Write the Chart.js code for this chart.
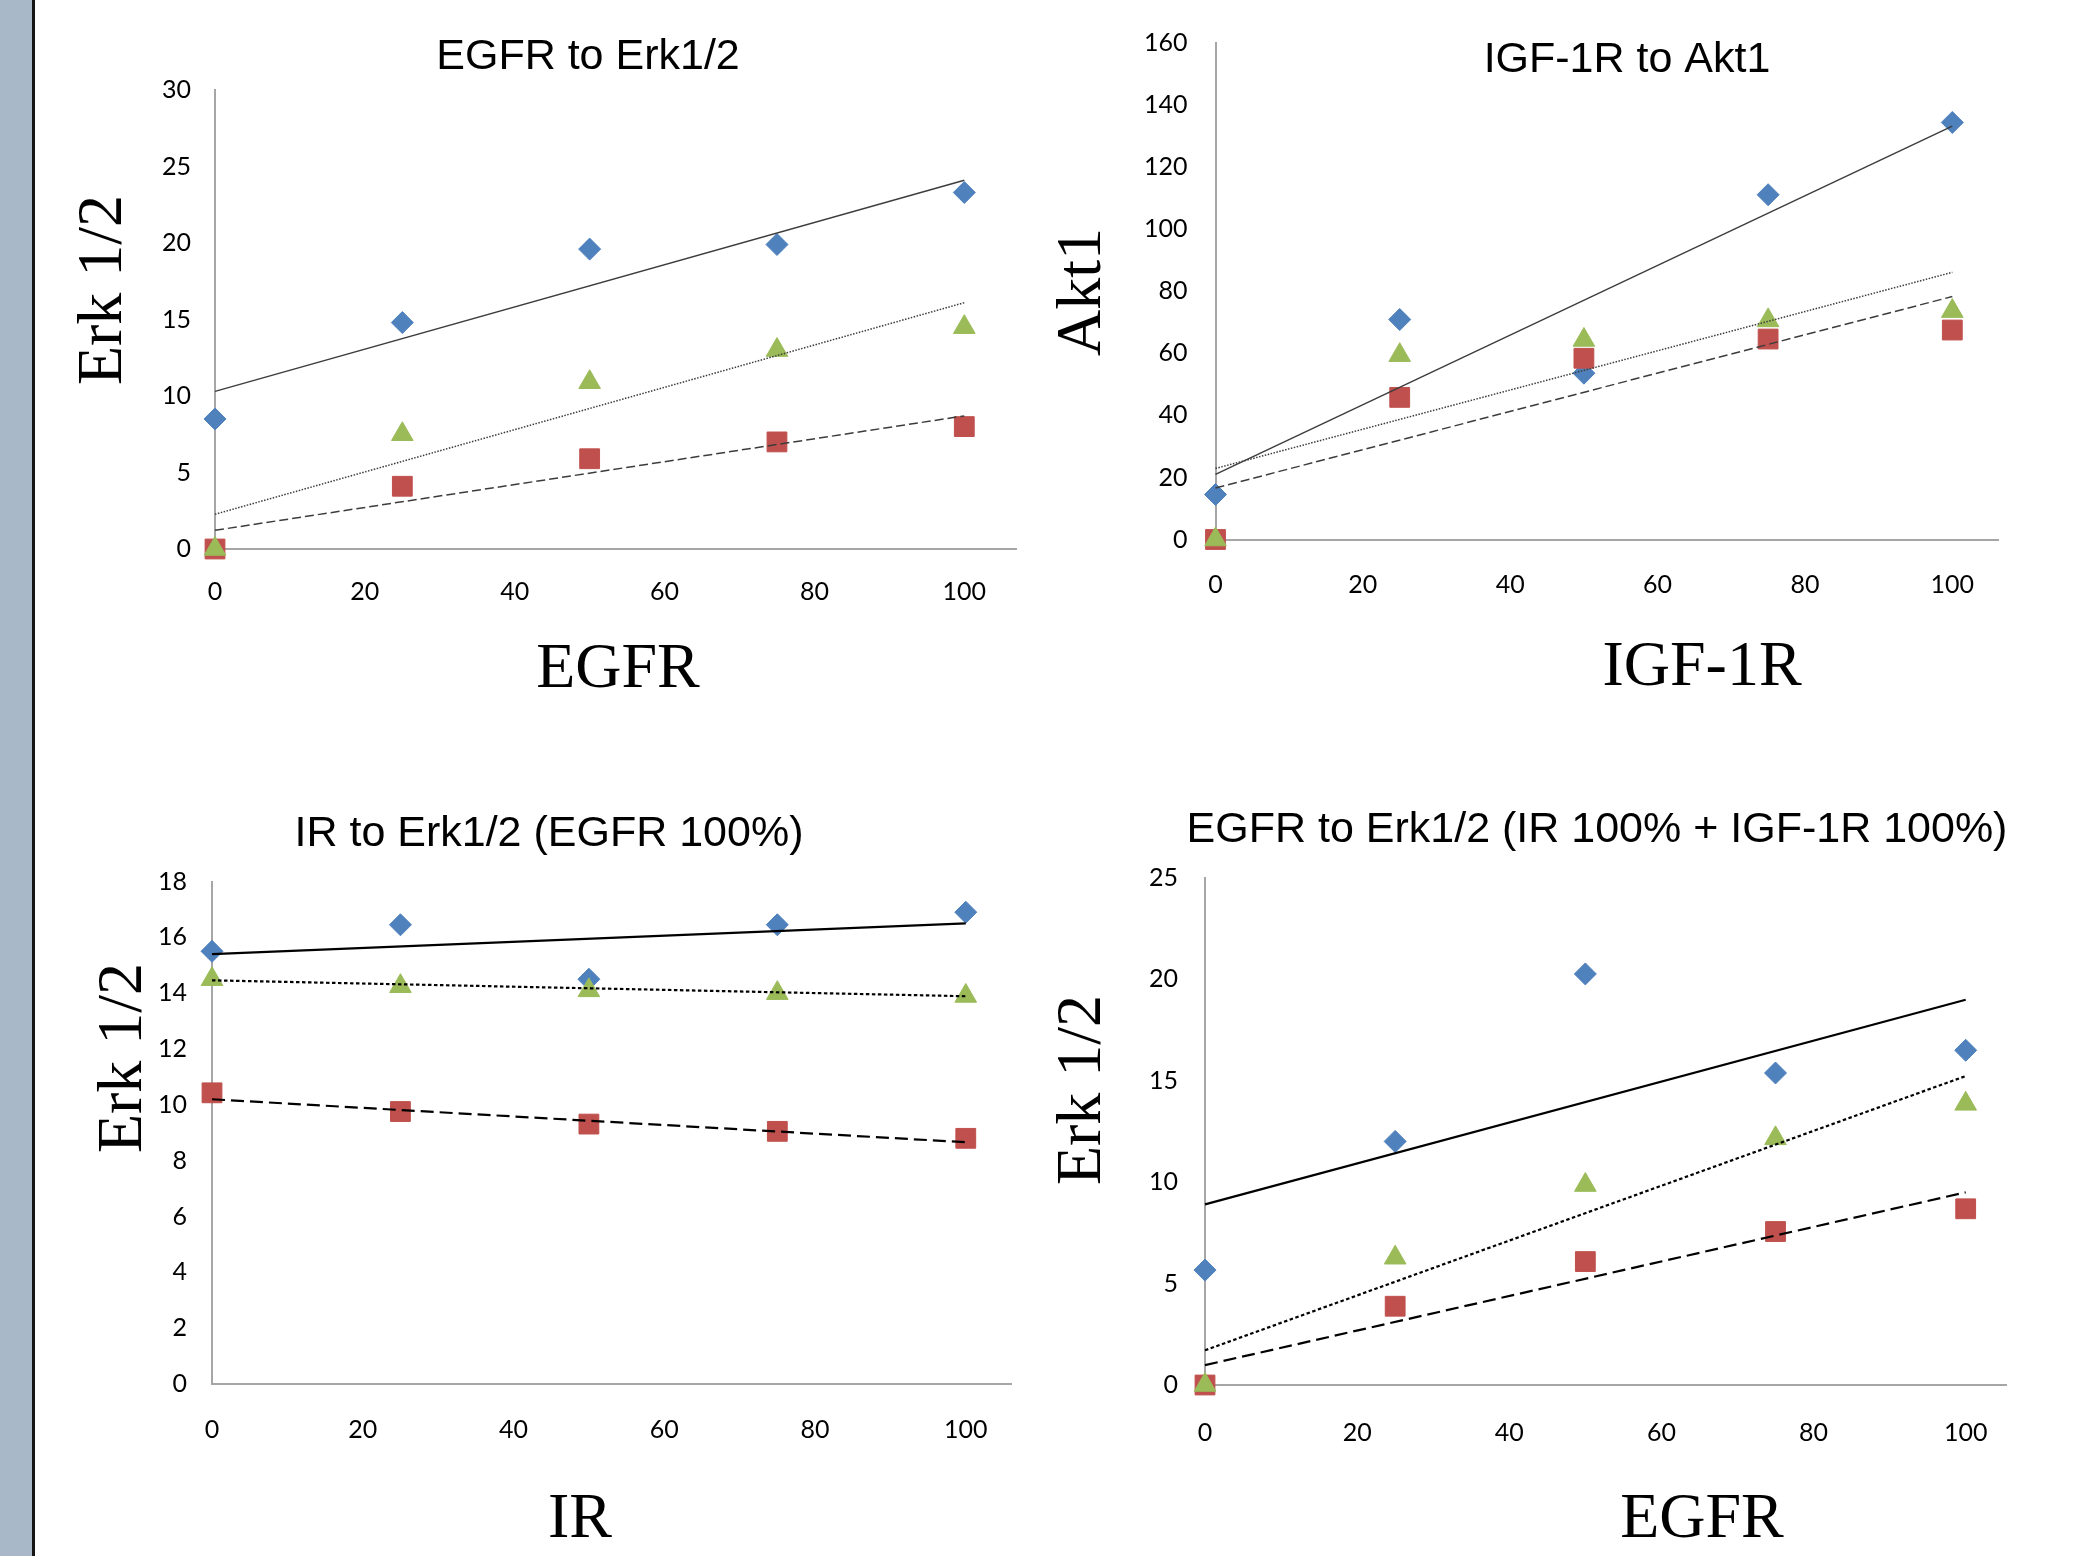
<!DOCTYPE html>
<html>
<head>
<meta charset="utf-8">
<title>Receptor to kinase response</title>
<script src="https://cdn.jsdelivr.net/npm/chart.js@4.4.0/dist/chart.umd.min.js"></script>
<style>
    html, body { margin: 0; padding: 0; background: #fff; }
    body { width: 2090px; height: 1556px; position: relative; overflow: hidden; }
    #sidebar { position: absolute; left: 0; top: 0; width: 32px; height: 1556px; background: #a9b8c8; border-right: 3px solid #151515; }
    canvas { position: absolute; }
</style>
</head>
<body>
<div id="sidebar"></div>
<canvas id="egfrErk" width="1004" height="740" style="left:36px;top:0px;width:1004px;height:740px"></canvas>
<canvas id="igfAkt" width="1050" height="740" style="left:1040px;top:0px;width:1050px;height:740px"></canvas>
<canvas id="irErk" width="1004" height="816" style="left:36px;top:740px;width:1004px;height:816px"></canvas>
<canvas id="egfrComboErk" width="1050" height="816" style="left:1040px;top:740px;width:1050px;height:816px"></canvas>
<script>
// receptor level (%) shared by all four panels
const doseLevels = [0, 25, 50, 75, 100];
const trendX = [0, 100];

// EGFR to Erk1/2
const egfrErkBlue = [8.5, 14.8, 19.6, 19.9, 23.3];
const egfrErkRed = [0, 4.1, 5.9, 7.0, 8.0];
const egfrErkGreen = [0, 7.5, 10.9, 13.0, 14.5];
const egfrErkTrendBlue = [10.3, 24.1];
const egfrErkTrendRed = [1.22, 8.7];
const egfrErkTrendGreen = [2.27, 16.1];

// IGF-1R to Akt1
const igfAktBlue = [14.5, 70.9, 53.6, 111.1, 134.4];
const igfAktRed = [0, 45.8, 58.4, 64.6, 67.5];
const igfAktGreen = [0, 59.4, 64.3, 70.6, 73.6];
const igfAktTrendBlue = [21.0, 133.2];
const igfAktTrendRed = [16.6, 78.3];
const igfAktTrendGreen = [22.9, 86.1];

// IR to Erk1/2 (EGFR 100%)
const irErkBlue = [15.5, 16.45, 14.5, 16.45, 16.9];
const irErkRed = [10.43, 9.76, 9.31, 9.05, 8.8];
const irErkGreen = [14.5, 14.25, 14.1, 14.0, 13.9];
const irErkTrendBlue = [15.4, 16.5];
const irErkTrendRed = [10.2, 8.66];
const irErkTrendGreen = [14.46, 13.89];

// EGFR to Erk1/2 (IR 100% + IGF-1R 100%)
const comboBlue = [5.66, 12.0, 20.25, 15.37, 16.49];
const comboRed = [0, 3.88, 6.08, 7.56, 8.68];
const comboGreen = [0, 6.27, 9.85, 12.15, 13.85];
const comboTrendBlue = [8.9, 18.98];
const comboTrendRed = [0.98, 9.49];
const comboTrendGreen = [1.71, 15.22];

const BLUE = '#4f81bd';
const RED = '#c0504d';
const GREEN = '#9bbb59';
const AXIS = '#a6a6a6';
const TITLE_FONT = '43px "Liberation Sans", Arial, sans-serif';
const AXIS_TITLE_FONT = '64px "Liberation Serif", "Times New Roman", serif';

function points(xs, ys) {
    return xs.map((x, i) => ({ x: x, y: ys[i] }));
}

function markerSet(values, color, style, radius, order) {
    return {
        data: points(doseLevels, values),
        backgroundColor: color,
        borderColor: color,
        pointStyle: style,
        pointRadius: radius,
        pointBorderWidth: 1,
        showLine: false,
        clip: false,
        order: order
    };
}

function trendSet(values, lineStyle) {
    return {
        data: points(trendX, values),
        showLine: true,
        pointRadius: 0,
        borderColor: lineStyle.color,
        borderWidth: lineStyle.width,
        borderDash: lineStyle.dash,
        fill: false,
        clip: false,
        order: 0
    };
}

// draws chart title and axis titles at page positions
function textPlugin(items, offX, offY) {
    return {
        id: 'panelText',
        afterDraw(chart) {
            const ctx = chart.ctx;
            ctx.save();
            ctx.fillStyle = '#000';
            ctx.textAlign = 'center';
            ctx.textBaseline = 'middle';
            items.forEach(t => {
                ctx.save();
                ctx.font = t.font;
                ctx.translate(t.x - offX, t.y - offY);
                if (t.rotate) ctx.rotate(-Math.PI / 2);
                ctx.fillText(t.text, 0, 0);
                ctx.restore();
            });
            ctx.restore();
        }
    };
}

function makePanel(id, cfg) {
    const canvas = document.getElementById(id);
    const box = {
        x: parseFloat(canvas.style.left),
        y: parseFloat(canvas.style.top),
        w: canvas.width,
        h: canvas.height
    };
    const yw = 120, xh = 100;
    const ls = cfg.lines;

    const datasets = [
        trendSet(cfg.trendBlue, ls.solid),
        trendSet(cfg.trendRed, ls.dashed),
        trendSet(cfg.trendGreen, ls.dotted),
        markerSet(cfg.green, GREEN, 'triangle', 12.5, 1),
        markerSet(cfg.red, RED, 'rect', 14, 2),
        markerSet(cfg.blue, BLUE, 'rectRot', 11, 3)
    ];

    const tickFont = { family: 'Lato, "Open Sans", sans-serif', size: 25 };

    return new Chart(canvas, {
        type: 'scatter',
        data: { datasets: datasets },
        options: {
            responsive: false,
            animation: false,
            events: [],
            layout: {
                padding: {
                    left: cfg.area.left - box.x - yw,
                    right: box.x + box.w - cfg.area.right,
                    top: cfg.area.top - box.y,
                    bottom: box.y + box.h - cfg.area.bottom - xh
                }
            },
            plugins: {
                legend: { display: false },
                tooltip: { enabled: false }
            },
            scales: {
                x: {
                    type: 'linear',
                    min: 0,
                    max: cfg.xMax,
                    grid: { display: false, drawTicks: false },
                    border: { display: true, color: AXIS, width: 2 },
                    ticks: { stepSize: 20, includeBounds: false, padding: cfg.xPad, color: '#000', font: tickFont },
                    afterFit: s => { s.height = xh; }
                },
                y: {
                    type: 'linear',
                    min: 0,
                    max: cfg.yMax,
                    grid: { display: false, drawTicks: false },
                    border: { display: true, color: AXIS, width: 2 },
                    ticks: { stepSize: cfg.yStep, padding: cfg.yPad, color: '#000', font: tickFont },
                    afterFit: s => { s.width = yw; }
                }
            }
        },
        plugins: [textPlugin(cfg.texts, box.x, box.y)]
    });
}

const thinLines = {
    solid: { color: '#3c3c3c', width: 1.4, dash: [] },
    dashed: { color: '#3c3c3c', width: 1.5, dash: [9, 4] },
    dotted: { color: '#3c3c3c', width: 1.5, dash: [1.5, 1.5] }
};
const boldLines = {
    solid: { color: '#000', width: 2.2, dash: [] },
    dashed: { color: '#000', width: 2.2, dash: [13, 6] },
    dotted: { color: '#000', width: 2.2, dash: [3.5, 2.5] }
};

makePanel('egfrErk', {
    area: { left: 215, right: 1016, top: 90, bottom: 549 },
    xMax: 106.9, yMax: 30, yStep: 5, xPad: 28, yPad: 24,
    blue: egfrErkBlue, red: egfrErkRed, green: egfrErkGreen,
    trendBlue: egfrErkTrendBlue, trendRed: egfrErkTrendRed, trendGreen: egfrErkTrendGreen,
    lines: thinLines,
    texts: [
        { text: 'EGFR to Erk1/2', x: 588, y: 57, font: TITLE_FONT },
        { text: 'Erk 1/2', x: 104, y: 290, font: AXIS_TITLE_FONT, rotate: true },
        { text: 'EGFR', x: 618, y: 670, font: AXIS_TITLE_FONT }
    ]
});

makePanel('igfAkt', {
    area: { left: 1215.5, right: 1998, top: 42, bottom: 539.5 },
    xMax: 106.2, yMax: 160, yStep: 20, xPad: 30, yPad: 28,
    blue: igfAktBlue, red: igfAktRed, green: igfAktGreen,
    trendBlue: igfAktTrendBlue, trendRed: igfAktTrendRed, trendGreen: igfAktTrendGreen,
    lines: thinLines,
    texts: [
        { text: 'IGF-1R to Akt1', x: 1627, y: 60, font: TITLE_FONT },
        { text: 'Akt1', x: 1083.5, y: 292, font: AXIS_TITLE_FONT, rotate: true },
        { text: 'IGF-1R', x: 1702, y: 668, font: AXIS_TITLE_FONT }
    ]
});

makePanel('irErk', {
    area: { left: 212, right: 1011, top: 881.5, bottom: 1384 },
    xMax: 106, yMax: 18, yStep: 2, xPad: 31, yPad: 25,
    blue: irErkBlue, red: irErkRed, green: irErkGreen,
    trendBlue: irErkTrendBlue, trendRed: irErkTrendRed, trendGreen: irErkTrendGreen,
    lines: boldLines,
    texts: [
        { text: 'IR to Erk1/2 (EGFR 100%)', x: 549, y: 834, font: TITLE_FONT },
        { text: 'Erk 1/2', x: 124, y: 1058, font: AXIS_TITLE_FONT, rotate: true },
        { text: 'IR', x: 580, y: 1520, font: AXIS_TITLE_FONT }
    ]
});

makePanel('egfrComboErk', {
    area: { left: 1205, right: 2006, top: 877.5, bottom: 1385 },
    xMax: 105.3, yMax: 25, yStep: 5, xPad: 33, yPad: 27,
    blue: comboBlue, red: comboRed, green: comboGreen,
    trendBlue: comboTrendBlue, trendRed: comboTrendRed, trendGreen: comboTrendGreen,
    lines: boldLines,
    texts: [
        { text: 'EGFR to Erk1/2 (IR 100% + IGF-1R 100%)', x: 1597, y: 830, font: TITLE_FONT },
        { text: 'Erk 1/2', x: 1083.5, y: 1090, font: AXIS_TITLE_FONT, rotate: true },
        { text: 'EGFR', x: 1702, y: 1520, font: AXIS_TITLE_FONT }
    ]
});
</script>
</body>
</html>
